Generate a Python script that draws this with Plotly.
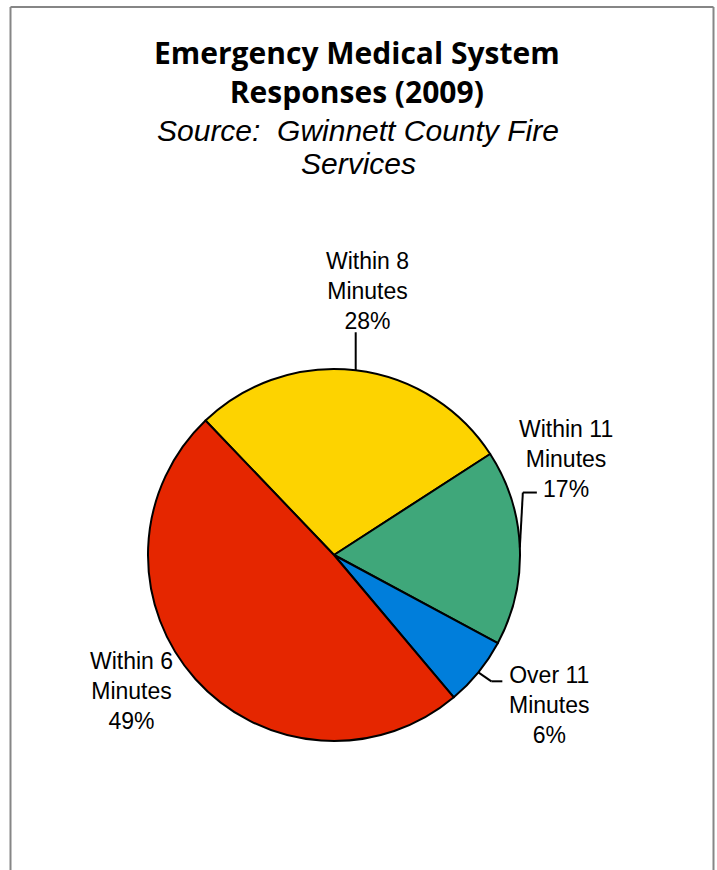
import math
import plotly.graph_objects as go

# ---- data ----
labels = ["Within 8 Minutes", "Within 11 Minutes", "Over 11 Minutes", "Within 6 Minutes"]
label_text = ["Within 8<br>Minutes", "Within 11<br>Minutes", "Over 11<br>Minutes", "Within 6<br>Minutes"]
values = [28, 17, 6, 49]
colors = ["#FDD300", "#3FA77A", "#007EDB", "#E52600"]

title_lines = ["Emergency Medical System", "Responses (2009)"]
subtitle_lines = ["Source:  Gwinnett County Fire", "Services"]

# ---- layout constants (pixels) ----
W, H = 717, 870
CX, CY, R = 334, 555, 186
ROT = -43.7  # start angle of first slice, degrees clockwise from 12 o'clock

def px(x):
    return x / W

def py(y):
    return 1 - y / H

fig = go.Figure(go.Pie(
    labels=labels,
    values=values,
    sort=False,
    direction="clockwise",
    rotation=ROT,
    marker=dict(colors=colors, line=dict(color="black", width=2)),
    textinfo="none",
    hoverinfo="label+percent",
    domain=dict(x=[px(CX - R), px(CX + R)], y=[py(CY + R), py(CY - R)]),
    showlegend=False,
))

# anchor points on the circle at each slice's mid angle (computed from data)
total = sum(values)
anchors = []
cum = 0
for v in values:
    mid = math.radians(ROT + (cum + v / 2) / total * 360)
    anchors.append((CX + R * math.sin(mid), CY - R * math.cos(mid)))
    cum += v

# label placement offsets relative to anchors and leader paths (pixel offsets)
label_offsets = [(12, -79), (46, -89), (71, 33), (-64, 12)]
leader_paths = [
    [(0, 0), (0, -38)],
    [(0, 0), (3, -55), (17, -55)],
    [(0, 0), (13, 9), (24, 9)],
    [],
]

annotations = []
shapes = []
for i, (ax_, ay_) in enumerate(anchors):
    pct = round(values[i] / total * 100)
    dx, dy = label_offsets[i]
    annotations.append(dict(
        x=px(ax_ + dx), y=py(ay_ + dy), xref="paper", yref="paper",
        text=f"{label_text[i]}<br>{pct}%", showarrow=False,
        xanchor="center", yanchor="middle", align="center",
        font=dict(family="Liberation Sans, Arial", size=23, color="black"),
    ))
    pts = leader_paths[i]
    for (x0, y0), (x1, y1) in zip(pts[:-1], pts[1:]):
        shapes.append(dict(
            type="line", xref="paper", yref="paper",
            x0=px(ax_ + x0), y0=py(ay_ + y0), x1=px(ax_ + x1), y1=py(ay_ + y1),
            line=dict(color="black", width=2),
        ))

# title (two bold lines in one block)
annotations.append(dict(
    x=px(357), y=py(72), xref="paper", yref="paper",
    text="<b>" + "<br>".join(title_lines) + "</b>", showarrow=False,
    xanchor="center", yanchor="middle", align="center",
    font=dict(family="Open Sans", size=30, color="black"),
))
for txt, yc in zip(subtitle_lines, [130, 164]):
    annotations.append(dict(
        x=px(358), y=py(yc), xref="paper", yref="paper",
        text=f"<i>{txt}</i>", showarrow=False,
        xanchor="center", yanchor="middle", align="center",
        font=dict(family="Liberation Sans, Arial", size=30, color="black"),
    ))

# outer frame (left, top, right)
frame = [((10.5, 880), (10.5, 7)), ((10.5, 7), (713.5, 7)), ((713.5, 7), (713.5, 880))]
for (x0, y0), (x1, y1) in frame:
    shapes.append(dict(
        type="line", xref="paper", yref="paper",
        x0=px(x0), y0=py(y0), x1=px(x1), y1=py(y1),
        line=dict(color="#868686", width=2),
    ))

fig.update_layout(
    width=W, height=H,
    margin=dict(l=0, r=0, t=0, b=0),
    paper_bgcolor="white", plot_bgcolor="white",
    annotations=annotations, shapes=shapes,
)

fig.write_html("out.html")
